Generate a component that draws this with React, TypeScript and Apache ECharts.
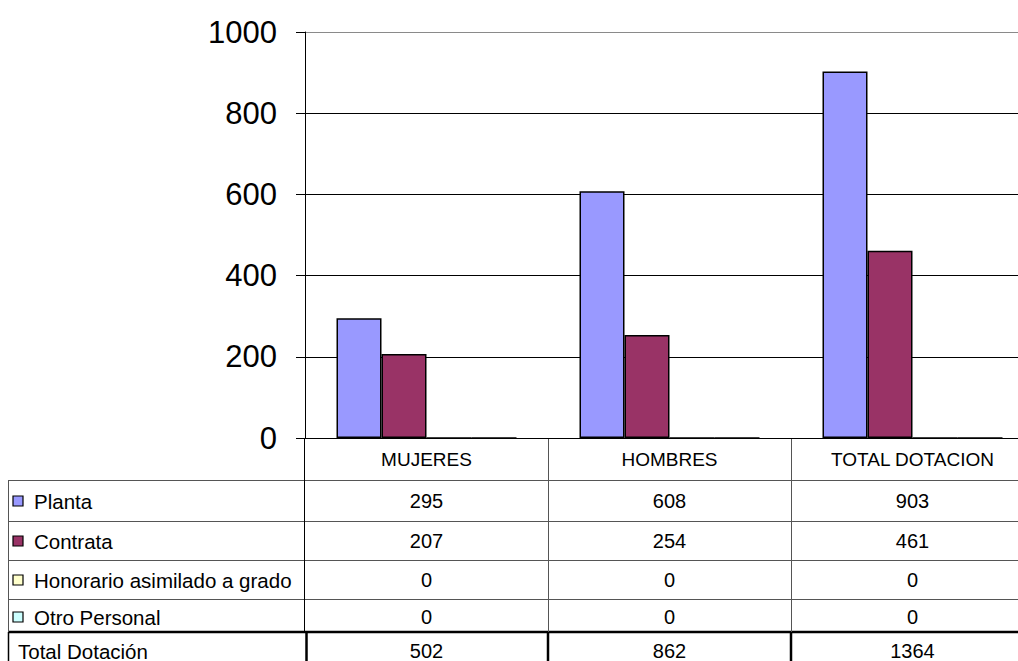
import React, { useEffect, useRef } from "react";
import * as echarts from "echarts";

const categories = ["MUJERES", "HOMBRES", "TOTAL DOTACION"];
const seriesNames = ["Planta", "Contrata", "Honorario asimilado a grado", "Otro Personal"];
const planta = [295, 608, 903];
const contrata = [207, 254, 461];
const honorario = [0, 0, 0];
const otro = [0, 0, 0];
const totalLabel = "Total Dotación";
const totals = [502, 862, 1364];
const yTicks = { min: 0, max: 1000, interval: 200 };
const colors = ["#9999FF", "#993366", "#FFFFCC", "#CCFFFF"];

const FONT = "'Liberation Sans', Arial, sans-serif";

export default function App() {
  const ref = useRef<HTMLDivElement>(null);
  useEffect(() => {
    if (!ref.current) return;
    const chart = echarts.init(ref.current, undefined, { renderer: "svg" });
    const seriesData = [planta, contrata, honorario, otro];
    chart.setOption({
      animation: false,
      backgroundColor: "#fff",
      textStyle: { fontFamily: FONT },
      grid: { left: 305, top: 32, width: 729, height: 406, containLabel: false },
      xAxis: {
        type: "category",
        data: categories,
        axisLine: { show: true, lineStyle: { color: "#000", width: 1 } },
        axisTick: { show: false },
        axisLabel: { fontSize: 19, color: "#000", margin: 12, fontFamily: FONT },
        splitLine: { show: false },
      },
      yAxis: {
        type: "value",
        min: yTicks.min,
        max: yTicks.max,
        interval: yTicks.interval,
        axisLine: { show: true, lineStyle: { color: "#000", width: 1 } },
        axisTick: { show: true, length: 9, lineStyle: { color: "#000" } },
        axisLabel: {
          fontSize: 31,
          color: "#000",
          margin: 28,
          fontFamily: FONT,
          formatter: (v: number) => String(v),
        },
        splitLine: {
          show: true,
          lineStyle: { color: ["#000", "#000", "#000", "#000", "#000", "#8a8a8a"], width: 1 },
        },
      },
      series: seriesNames.map((name, i) => ({
        name,
        type: "bar",
        data: seriesData[i],
        barWidth: 45,
        barGap: "0%",
        itemStyle: { color: colors[i], borderColor: "#000", borderWidth: 1.5 },
      })),
    });

    const bounds: number[] = [];
    const c0 = chart.convertToPixel({ xAxisIndex: 0 }, 0) as number;
    const c1 = chart.convertToPixel({ xAxisIndex: 0 }, 1) as number;
    const band = c1 - c0;
    for (let i = 0; i <= categories.length; i++) bounds.push(c0 - band / 2 + i * band);
    const centers = categories.map((_, i) => chart.convertToPixel({ xAxisIndex: 0 }, i) as number);

    const rowCenters = [501, 541, 580, 617, 651];
    const thin = { stroke: "#555", lineWidth: 1 };
    const thick = { stroke: "#000", lineWidth: 2.5 };
    const g: any[] = [];
    const line = (x1: number, y1: number, x2: number, y2: number, style: any) =>
      g.push({ type: "line", shape: { x1, y1, x2, y2 }, style, silent: true });

    line(8, 480.5, 1050, 480.5, thin);
    line(8, 521.5, 1050, 521.5, thin);
    line(8, 560.5, 1050, 560.5, thin);
    line(8, 599.5, 1050, 599.5, thin);
    line(8, 632, 1050, 632, thick);
    line(8.5, 480, 8.5, 632, thin);
    line(8.5, 632, 8.5, 661, { stroke: "#000", lineWidth: 1.5 });
    line(bounds[0] - 0.5, 438, bounds[0] - 0.5, 632, { stroke: "#000", lineWidth: 1 });
    line(bounds[0] + 1.5, 632, bounds[0] + 1.5, 661, thick);
    for (let i = 1; i < categories.length; i++) {
      line(Math.round(bounds[i]) + 0.5, 438, Math.round(bounds[i]) + 0.5, 632, thin);
      line(Math.round(bounds[i]), 632, Math.round(bounds[i]), 661, thick);
    }

    const txt = (text: string, x: number, y: number, size: number, align: string) =>
      g.push({
        type: "text",
        x,
        y,
        style: { text, fontSize: size, fill: "#000", fontFamily: FONT, verticalAlign: "middle", align },
        silent: true,
      });

    const rows = [planta, contrata, honorario, otro];
    rows.forEach((vals, r) => {
      g.push({
        type: "rect",
        shape: { x: 13, y: rowCenters[r] - 5, width: 10, height: 10 },
        style: { fill: colors[r], stroke: "#000", lineWidth: 1.2 },
        silent: true,
      });
      txt(seriesNames[r], 34, rowCenters[r], 20.5, "left");
      vals.forEach((v, c) => txt(String(v), centers[c], rowCenters[r], 20, "center"));
    });
    txt(totalLabel, 18, rowCenters[4], 20.5, "left");
    totals.forEach((v, c) => txt(String(v), centers[c], rowCenters[4], 20, "center"));
    chart.setOption({ graphic: g });

    return () => chart.dispose();
  }, []);
  return (
    <div style={{ position: "fixed", left: 0, top: 0, width: 1018, height: 661, overflow: "hidden", background: "#fff" }}>
      <div ref={ref} style={{ width: 1050, height: 661 }} />
    </div>
  );
}
